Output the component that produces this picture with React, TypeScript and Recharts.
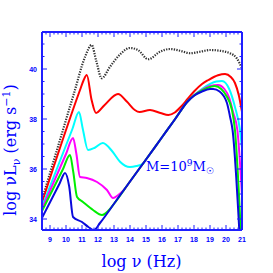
import React from 'react';
import { LineChart, Line, XAxis, YAxis } from 'recharts';

const AXIS = '#1f1fff';
const TEXT = '#0000ff';

const X_DOMAIN: [number, number] = [8.5, 21];
const Y_DOMAIN: [number, number] = [33.56, 41.48];
const X_TICKS = [9, 10, 11, 12, 13, 14, 15, 16, 17, 18, 19, 20, 21];
const Y_TICKS = [34, 36, 38, 40];

const dottedX = [8.5, 9.5, 10.5, 11.2, 11.6, 11.9, 12.23, 12.75, 13.4, 14.0, 14.5, 15.14, 15.875, 16.5, 17.125, 17.75, 18.375, 19.0, 19.625, 20.25, 20.67, 21.0];
const dottedY = [34.77, 36.9, 39.03, 40.5, 40.96, 40.3, 39.63, 40.09, 40.6, 40.84, 40.76, 40.39, 40.69, 40.8, 40.73, 40.63, 40.69, 40.76, 40.73, 40.63, 40.43, 40.03];

const redX = [8.5, 10.875, 11.1, 11.3, 11.6, 11.875, 12.4, 13.25, 13.8, 14.3, 14.6, 15.25, 15.9, 16.4, 16.8, 17.2, 17.6, 18.0, 18.5, 18.9, 19.5, 19.94, 20.3, 20.56, 20.8, 21.0];
const redY = [34.66, 39.16, 39.55, 39.76, 38.76, 38.24, 38.55, 39.0, 38.7, 38.36, 38.28, 38.36, 38.24, 38.16, 38.26, 38.5, 38.8, 39.1, 39.4, 39.56, 39.75, 39.8, 39.68, 39.44, 38.95, 38.28];

const cyanX = [8.5, 10.4, 10.81, 11.05, 11.375, 11.8, 12.3, 12.9, 13.375, 14.0, 14.4, 14.8, 15, 16, 16.8, 17.6, 18.0, 18.5, 19.0, 19.4, 19.75, 20.2, 20.56, 20.875, 21.0];
const cyanY = [34.48, 37.6, 38.28, 37.6, 36.76, 36.85, 37.04, 36.7, 36.29, 36.08, 36.12, 36.21, 36.38, 37.27, 37.98, 38.7, 38.95, 39.2, 39.4, 39.5, 39.52, 39.2, 38.48, 37.56, 36.84];

const magentaX = [8.5, 10.0, 10.44, 10.65, 10.875, 11.3, 11.94, 12.56, 12.94, 13.25, 13.6, 14, 15, 16, 16.8, 17.6, 18.0, 18.5, 19.0, 19.5, 19.9, 20.2, 20.44, 20.71, 21.0];
const magentaY = [34.4, 36.6, 37.24, 36.6, 35.68, 35.64, 35.48, 35.16, 34.84, 34.95, 35.15, 35.5, 36.38, 37.27, 37.98, 38.7, 38.94, 39.17, 39.32, 39.36, 39.2, 38.85, 38.28, 37.56, 34.96];

const greenX = [8.5, 9.8, 10.25, 10.45, 10.69, 11.06, 11.69, 12.25, 12.75, 13, 14, 15, 16, 16.8, 17.6, 18.0, 18.5, 19.0, 19.3, 19.7, 20.0, 20.375, 20.56, 20.92];
const greenY = [34.32, 35.98, 36.56, 35.9, 34.88, 34.68, 34.36, 34.16, 34.4, 34.61, 35.5, 36.38, 37.27, 37.98, 38.7, 38.94, 39.14, 39.28, 39.32, 39.2, 38.95, 38.36, 37.56, 33.56];

const blueX = [8.5, 9.6, 9.94, 10.2, 10.44, 11.0, 11.4, 11.75, 12.125, 13, 14, 15, 16, 16.8, 17.6, 18.0, 18.5, 19.0, 19.2, 19.6, 20.06, 20.25, 20.41, 20.83];
const blueY = [34.04, 35.42, 35.84, 35.3, 34.08, 33.88, 33.68, 33.56, 33.84, 34.61, 35.5, 36.38, 37.27, 37.98, 38.7, 38.93, 39.1, 39.2, 39.2, 39.1, 38.64, 38.1, 37.56, 33.56];

const toPts = (xs: number[], ys: number[]) => xs.map((x, i) => ({ x, y: ys[i] }));

const xAll: number[] = [];
for (let v = 8.5; v <= 21.001; v += 0.25) xAll.push(+v.toFixed(2));
const yAll: number[] = [];
for (let v = 34; v <= 41.001; v += 0.5) yAll.push(v);

const serif = 'DejaVu Serif';
const MAJOR = 5;
const MINOR = 2.5;

const isMajorX = (v: number) => X_TICKS.includes(v);
const isMajorY = (v: number) => Y_TICKS.includes(v);

const BottomTick = (p: any) => {
  const v = p.payload.value;
  const m = isMajorX(v);
  return (
    <g>
      <line x1={p.x} x2={p.x} y1={p.y} y2={p.y - (m ? MAJOR : MINOR)} stroke={AXIS} strokeWidth={1} />
      {m && (
        <text x={p.x} y={p.y + 11.5} textAnchor="middle" fontFamily="Liberation Sans" fontWeight={700} fontSize={7} fill={TEXT}>
          {v}
        </text>
      )}
    </g>
  );
};
const TopTick = (p: any) => {
  const m = isMajorX(p.payload.value);
  return <line x1={p.x} x2={p.x} y1={p.y} y2={p.y + (m ? MAJOR : MINOR)} stroke={AXIS} strokeWidth={1} />;
};
const LeftTick = (p: any) => {
  const v = p.payload.value;
  const m = isMajorY(v);
  return (
    <g>
      <line x1={p.x} x2={p.x + (m ? MAJOR : MINOR)} y1={p.y} y2={p.y} stroke={AXIS} strokeWidth={1} />
      {m && (
        <text x={p.x - 5} y={p.y + 2.5} textAnchor="end" fontFamily="Liberation Sans" fontWeight={700} fontSize={7} fill={TEXT}>
          {v}
        </text>
      )}
    </g>
  );
};
const RightTick = (p: any) => {
  const m = isMajorY(p.payload.value);
  return <line x1={p.x} x2={p.x - (m ? MAJOR : MINOR)} y1={p.y} y2={p.y} stroke={AXIS} strokeWidth={1} />;
};

export default function App() {
  const series = [
    { key: 'dotted', data: toPts(dottedX, dottedY), color: '#333333', dash: '1.3 1.3', w: 2.2 },
    { key: 'red', data: toPts(redX, redY), color: '#ff0000' },
    { key: 'cyan', data: toPts(cyanX, cyanY), color: '#00ffff' },
    { key: 'magenta', data: toPts(magentaX, magentaY), color: '#ff00ff' },
    { key: 'green', data: toPts(greenX, greenY), color: '#00ee00' },
    { key: 'blue', data: toPts(blueX, blueY), color: '#0a0adc' },
  ];
  const common = { type: 'number' as const, allowDataOverflow: true, interval: 0 as const, tickSize: 0, tickMargin: 0, tickLine: false };
  const axisLine = { stroke: AXIS, strokeWidth: 2 };
  return (
    <div style={{ position: 'absolute', left: 0, top: 0, width: 273, height: 273, background: '#fff' }}>
      <LineChart width={273} height={273} margin={{ top: 31, right: 30, bottom: 42, left: 41 }}>
        <XAxis xAxisId="b" dataKey="x" domain={X_DOMAIN} ticks={xAll} orientation="bottom" height={1}
          axisLine={axisLine} tick={<BottomTick />} {...common} />
        <XAxis xAxisId="t" dataKey="x" domain={X_DOMAIN} ticks={xAll} orientation="top" height={1}
          axisLine={axisLine} tick={<TopTick />} {...common} />
        <YAxis yAxisId="l" dataKey="y" domain={Y_DOMAIN} ticks={yAll} orientation="left" width={1}
          axisLine={axisLine} tick={<LeftTick />} {...common} />
        <YAxis yAxisId="r" dataKey="y" domain={Y_DOMAIN} ticks={yAll} orientation="right" width={1}
          axisLine={axisLine} tick={<RightTick />} {...common} />
        {series.map((s) => (
          <Line key={s.key} xAxisId="b" yAxisId="l" data={s.data} dataKey="y" type="monotone"
            stroke={s.color} strokeWidth={s.w ?? 2} strokeDasharray={s.dash} dot={false}
            activeDot={false} isAnimationActive={false} />
        ))}
        <text x={141.5} y={267} textAnchor="middle" fontFamily={serif} fontSize={16} fill={TEXT}>
          log ν (Hz)
        </text>
        <text transform="translate(15.5,150) rotate(-90)" textAnchor="middle" fontFamily={serif} fontSize={16} fill={TEXT}>
          log νL<tspan fontSize={11} dy={4}>ν</tspan><tspan dy={-4}> (erg s</tspan><tspan fontSize={11} dy={-6}>−1</tspan><tspan dy={6}>)</tspan>
        </text>
        <text x={146} y={171} fontFamily={serif} fontSize={13} fill={TEXT}>
          M=10<tspan fontSize={9} dy={-5}>9</tspan><tspan dy={5}>M</tspan><tspan fontSize={9} dy={3}>☉</tspan>
        </text>
      </LineChart>
    </div>
  );
}
